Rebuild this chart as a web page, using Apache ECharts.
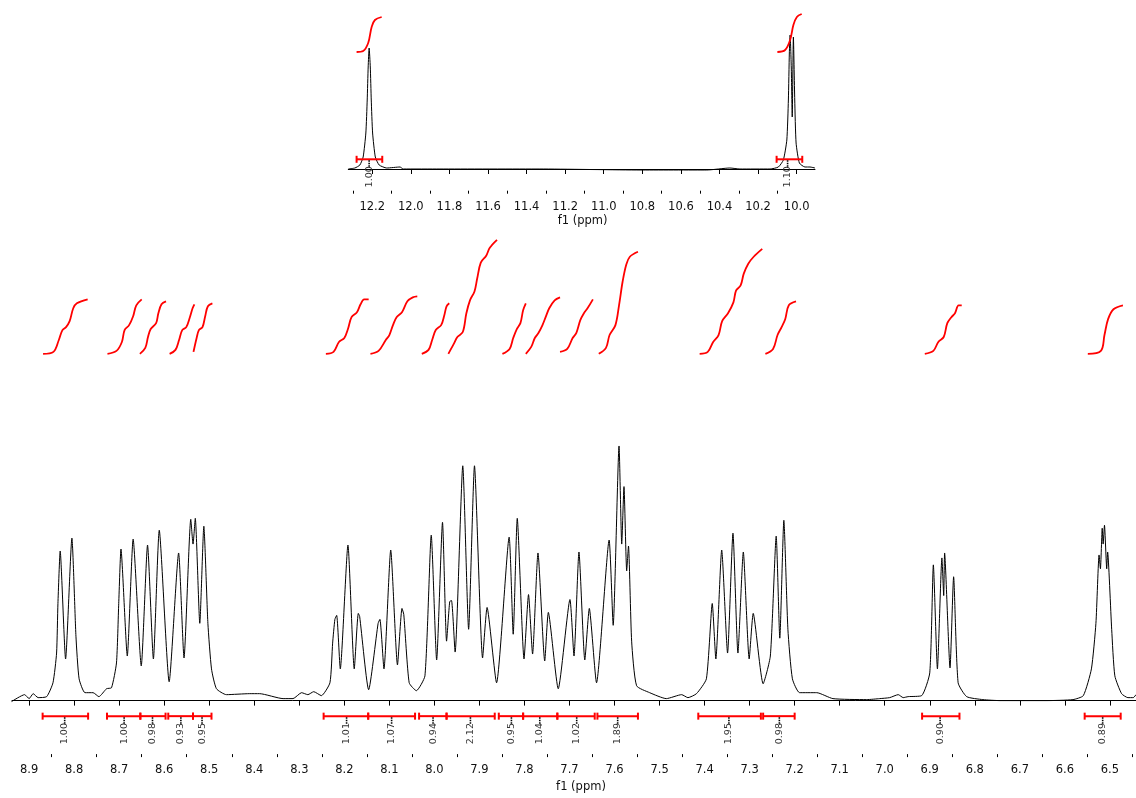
<!DOCTYPE html>
<html>
<head>
<meta charset="utf-8">
<script src="https://cdn.jsdelivr.net/npm/echarts@6/dist/echarts.min.js"></script>
<style>
  html, body { margin: 0; padding: 0; background: #fff; }
  #chart { width: 1136px; height: 798px; }
</style>
</head>
<body>
<div id="chart"></div>
<script>
// ---------- DATA ----------
// Main spectrum (f1, ppm) and intensity (arbitrary units, 0 = baseline)
const mainPpm = [8.939, 8.910, 8.900, 8.891, 8.880, 8.861, 8.847, 8.839, 8.836, 8.831,
  8.819, 8.805, 8.796, 8.789, 8.776, 8.758, 8.745, 8.728, 8.717, 8.706,
  8.701, 8.696, 8.682, 8.669, 8.651, 8.637, 8.624, 8.611, 8.589, 8.568,
  8.556, 8.541, 8.536, 8.531, 8.521, 8.512, 8.503, 8.495, 8.484, 8.462,
  8.410, 8.388, 8.336, 8.314, 8.295, 8.281, 8.268, 8.251, 8.232, 8.226,
  8.221, 8.217, 8.209, 8.192, 8.178, 8.169, 8.166, 8.146, 8.125, 8.121,
  8.112, 8.097, 8.082, 8.072, 8.068, 8.056, 8.040, 8.021, 8.007, 7.995,
  7.982, 7.973, 7.966, 7.962, 7.954, 7.937, 7.924, 7.911, 7.893, 7.883,
  7.862, 7.834, 7.825, 7.816, 7.801, 7.791, 7.782, 7.770, 7.755, 7.747,
  7.725, 7.699, 7.690, 7.679, 7.666, 7.656, 7.640, 7.612, 7.603, 7.590,
  7.584, 7.579, 7.573, 7.569, 7.562, 7.551, 7.522, 7.485, 7.451, 7.437,
  7.418, 7.396, 7.383, 7.375, 7.362, 7.349, 7.337, 7.326, 7.314, 7.301,
  7.292, 7.270, 7.254, 7.241, 7.233, 7.224, 7.215, 7.205, 7.189, 7.151,
  7.115, 7.040, 7.011, 6.989, 6.970, 6.959, 6.948, 6.918, 6.900, 6.892,
  6.883, 6.873, 6.869, 6.867, 6.855, 6.847, 6.837, 6.818, 6.782, 6.744,
  6.715, 6.641, 6.582, 6.559, 6.541, 6.531, 6.524, 6.521, 6.517, 6.515,
  6.512, 6.507, 6.505, 6.496, 6.489, 6.474, 6.460, 6.448, 6.442];
const mainIntensity = [-1, 6, 2, 7, 3, 4, 18, 48, 98, 151,
  42, 164, 65, 22, 8, 8, 4, 12, 13, 38,
  98, 153, 45, 163, 35, 157, 42, 172, 19, 149,
  43, 183, 158, 184, 78, 176, 78, 32, 12, 6,
  7, 7, 2, 2, 8, 6, 9, 5, 18, 58,
  82, 86, 32, 157, 32, 88, 85, 11, 78, 82,
  32, 152, 36, 93, 87, 18, 10, 25, 167, 41,
  180, 60, 100, 101, 49, 237, 72, 237, 43, 94,
  18, 165, 67, 184, 42, 107, 47, 149, 40, 89,
  12, 102, 45, 150, 41, 93, 18, 162, 76, 257,
  158, 216, 131, 156, 60, 15, 8, 2, 6, 3,
  7, 22, 98, 42, 152, 48, 169, 48, 150, 42,
  88, 17, 45, 166, 63, 182, 72, 22, 8, 8,
  2, 1, 2, 3, 6, 3, 4, 5, 28, 137,
  32, 144, 106, 149, 33, 125, 18, 4, 1, 0,
  0, 0, 1, 5, 32, 78, 147, 133, 174, 158,
  177, 133, 150, 72, 25, 7, 3, 3, 6];

// Inset spectrum (12.3 - 9.9 ppm)
const insetPpm = [12.324, 12.290, 12.264, 12.247, 12.233, 12.226, 12.221, 12.216, 12.210, 12.205,
  12.198, 12.184, 12.164, 12.125, 12.056, 12.039, 11.849, 11.331, 10.812, 10.466,
  10.346, 10.294, 10.138, 10.095, 10.069, 10.051, 10.043, 10.038, 10.034, 10.028,
  10.023, 10.017, 10.010, 10.003, 9.986, 9.957, 9.931, 9.905];
const insetIntensity = [0, 1, 4, 12, 36, 69, 102, 121, 102, 69,
  36, 12, 4, 1, 2, 0, 0, 0, -1, -1,
  1, 0, 0, 2, 9, 29, 69, 116, 134, 102,
  52, 132, 69, 26, 6, 2, 2, 1];

// Integration regions: [from ppm, to ppm, label ppm]
const mainIntegralRanges = [
  [8.870, 8.769, 8.821], [8.727, 8.653, 8.689], [8.653, 8.597, 8.626],
  [8.591, 8.536, 8.563], [8.536, 8.495, 8.516], [8.246, 8.147, 8.195],
  [8.147, 8.043, 8.095], [8.034, 7.973, 8.003], [7.973, 7.866, 7.920],
  [7.857, 7.803, 7.829], [7.803, 7.727, 7.766], [7.727, 7.644, 7.684],
  [7.638, 7.548, 7.593], [7.414, 7.275, 7.346], [7.270, 7.200, 7.234],
  [6.917, 6.834, 6.877], [6.556, 6.476, 6.516]];
const mainIntegralValues = ['1.00', '1.00', '0.98', '0.93', '0.95', '1.01', '1.07', '0.94', '2.12',
  '0.95', '1.04', '1.02', '1.89', '1.95', '0.98', '0.90', '0.89'];
const insetIntegralRanges = [[12.281, 12.148, 12.216], [10.104, 9.971, 10.047]];
const insetIntegralValues = ['1.00', '1.10'];

// Integral curves (ppm, cumulative integral in intensity units)
const mainIntegralCurvePpm = [
  [8.869, 8.846, 8.834, 8.826, 8.818, 8.810, 8.802, 8.794, 8.770],
  [8.726, 8.706, 8.694, 8.688, 8.678, 8.669, 8.662, 8.650],
  [8.654, 8.642, 8.636, 8.630, 8.618, 8.613, 8.606, 8.596],
  [8.588, 8.575, 8.567, 8.560, 8.551, 8.543, 8.537, 8.533],
  [8.535, 8.528, 8.523, 8.515, 8.509, 8.503, 8.493],
  [8.241, 8.224, 8.212, 8.200, 8.192, 8.184, 8.172, 8.164, 8.156, 8.146],
  [8.142, 8.124, 8.108, 8.100, 8.092, 8.084, 8.072, 8.060, 8.048, 8.038],
  [8.028, 8.013, 8.005, 7.997, 7.985, 7.978, 7.973, 7.967],
  [7.969, 7.957, 7.949, 7.937, 7.929, 7.921, 7.911, 7.905, 7.897, 7.885, 7.877, 7.861],
  [7.849, 7.833, 7.825, 7.817, 7.809, 7.803, 7.797],
  [7.797, 7.785, 7.777, 7.769, 7.760, 7.753, 7.745, 7.733, 7.721],
  [7.721, 7.705, 7.693, 7.685, 7.676, 7.668, 7.660, 7.648],
  [7.635, 7.619, 7.611, 7.598, 7.590, 7.582, 7.574, 7.566, 7.548],
  [7.411, 7.393, 7.381, 7.369, 7.361, 7.348, 7.336, 7.330, 7.320, 7.313, 7.303, 7.291, 7.272],
  [7.265, 7.248, 7.238, 7.229, 7.221, 7.213, 7.197],
  [6.911, 6.892, 6.881, 6.869, 6.861, 6.852, 6.844, 6.836, 6.829],
  [6.549, 6.520, 6.512, 6.504, 6.492, 6.471]];
const mainIntegralCurveVal = [
  [350, 352, 364, 374, 377, 383, 396, 401, 405],
  [350, 353, 362, 374, 379, 388, 399, 405],
  [350, 356, 367, 375, 381, 391, 400, 403],
  [350, 354, 364, 374, 377, 387, 396, 400],
  [352, 366, 374, 377, 388, 398, 401],
  [350, 352, 362, 366, 375, 387, 392, 400, 405, 405],
  [350, 353, 364, 369, 379, 387, 392, 403, 407, 408],
  [350, 354, 364, 374, 379, 389, 398, 401],
  [350, 360, 367, 372, 391, 404, 413, 426, 442, 449, 457, 465],
  [350, 355, 366, 375, 381, 394, 401],
  [350, 357, 366, 371, 379, 387, 396, 404, 407],
  [352, 355, 366, 371, 384, 391, 396, 405],
  [350, 356, 369, 379, 399, 423, 440, 448, 453],
  [350, 352, 362, 369, 383, 391, 402, 414, 419, 431, 441, 448, 456],
  [350, 355, 369, 377, 385, 399, 403],
  [350, 353, 362, 367, 381, 387, 391, 399, 399],
  [350, 353, 369, 385, 395, 399]];
const insetIntegralCurvePpm = [
  [12.281, 12.247, 12.221, 12.203, 12.186, 12.151],
  [10.100, 10.060, 10.034, 10.017, 9.999, 9.974]];
const insetIntegralCurveVal = [
  [117, 118, 126, 142, 149, 152],
  [117, 119, 129, 144, 152, 155]];

// Tick labels
const mainMajorTicks = [6.5, 6.6, 6.7, 6.8, 6.9, 7.0, 7.1, 7.2, 7.3, 7.4, 7.5, 7.6, 7.7,
  7.8, 7.9, 8.0, 8.1, 8.2, 8.3, 8.4, 8.5, 8.6, 8.7, 8.8, 8.9];
const mainMinorTicks = [6.45, 6.55, 6.65, 6.75, 6.85, 6.95, 7.05, 7.15, 7.25, 7.35, 7.45, 7.55,
  7.65, 7.75, 7.85, 7.95, 8.05, 8.15, 8.25, 8.35, 8.45, 8.55, 8.65, 8.75, 8.85];
const insetMajorTicks = [10.0, 10.2, 10.4, 10.6, 10.8, 11.0, 11.2, 11.4, 11.6, 11.8, 12.0, 12.2];
const insetMinorTicks = [10.1, 10.3, 10.5, 10.7, 10.9, 11.1, 11.3, 11.5, 11.7, 11.9, 12.1, 12.3];

// ---------- STYLE / LAYOUT ----------
const FONT = '"DejaVu Sans", Verdana, sans-serif';
const RED = '#ff0000';
const MAIN_BAR_LEVEL = -15.7;
const INSET_BAR_LEVEL = 9.7;

function pairs(xs, ys) { return xs.map((x, i) => [x, ys[i]]); }

function integralRenderer(barLevel, labels) {
  return function (params, api) {
    const s = api.coord([api.value(0), barLevel]);
    const e = api.coord([api.value(1), barLevel]);
    const c = api.coord([api.value(2), barLevel]);
    const red = { stroke: RED, lineWidth: 2 };
    return {
      type: 'group',
      children: [
        { type: 'line', shape: { x1: s[0], y1: s[1], x2: e[0], y2: e[1] }, style: red },
        { type: 'line', shape: { x1: s[0], y1: s[1] - 3.5, x2: s[0], y2: s[1] + 3.5 }, style: red },
        { type: 'line', shape: { x1: e[0], y1: e[1] - 3.5, x2: e[0], y2: e[1] + 3.5 }, style: red },
        { type: 'line', shape: { x1: c[0], y1: c[1] + 1, x2: c[0], y2: c[1] + 7.5 },
          style: { stroke: '#000', lineWidth: 1.6, lineDash: [1.5, 1] } },
        { type: 'text', x: c[0], y: c[1] + 17.5, rotation: Math.PI / 2,
          style: { text: labels[params.dataIndex], fill: '#333', fontSize: 9.5, fontFamily: FONT,
                   align: 'center', verticalAlign: 'middle' } }
      ]
    };
  };
}

function majorAxis(gridIndex, min, max, ticks, namePad) {
  return {
    type: 'value', gridIndex, min, max, inverse: true, position: 'bottom',
    axisLine: { show: true, lineStyle: { color: '#000', width: 1 } },
    axisTick: { show: true, customValues: ticks, length: 5, lineStyle: { color: '#000', width: 1 } },
    axisLabel: { show: true, customValues: ticks, margin: 10, color: '#111', fontSize: 11.5,
                 fontFamily: FONT, formatter: v => v.toFixed(1) },
    splitLine: { show: false },
    name: 'f1 (ppm)', nameLocation: 'middle', nameGap: 24,
    nameTextStyle: { color: '#111', fontSize: 11.5, fontFamily: FONT, padding: [0, 0, 0, namePad] }
  };
}
function minorAxis(gridIndex, min, max, ticks) {
  return {
    type: 'value', gridIndex, min, max, inverse: true, position: 'bottom', offset: 0,
    axisLine: { show: false },
    axisTick: { show: true, customValues: ticks, length: 3, lineStyle: { color: '#000', width: 1 } },
    axisLabel: { show: false },
    splitLine: { show: false }
  };
}

const series = [
  { type: 'line', xAxisIndex: 0, yAxisIndex: 0, data: pairs(mainPpm, mainIntensity),
    showSymbol: false, symbol: 'none', smooth: 0.18, lineStyle: { color: '#000', width: 1 }, z: 3 },
  { type: 'line', xAxisIndex: 2, yAxisIndex: 1, data: pairs(insetPpm, insetIntensity),
    showSymbol: false, symbol: 'none', smooth: 0.18, lineStyle: { color: '#000', width: 1 }, z: 3 },
  { type: 'custom', coordinateSystem: 'cartesian2d', xAxisIndex: 0, yAxisIndex: 0,
    data: mainIntegralRanges, renderItem: integralRenderer(MAIN_BAR_LEVEL, mainIntegralValues), z: 4 },
  { type: 'custom', coordinateSystem: 'cartesian2d', xAxisIndex: 2, yAxisIndex: 1,
    data: insetIntegralRanges, renderItem: integralRenderer(INSET_BAR_LEVEL, insetIntegralValues), z: 4 }
];
mainIntegralCurvePpm.forEach((xs, i) => {
  series.push({ type: 'line', xAxisIndex: 0, yAxisIndex: 0, data: pairs(xs, mainIntegralCurveVal[i]),
    symbol: 'none', smooth: 0.35, lineStyle: { color: RED, width: 1.8 }, z: 5 });
});
insetIntegralCurvePpm.forEach((xs, i) => {
  series.push({ type: 'line', xAxisIndex: 2, yAxisIndex: 1, data: pairs(xs, insetIntegralCurveVal[i]),
    symbol: 'none', smooth: 0.35, lineStyle: { color: RED, width: 1.8 }, z: 5 });
});

const chart = echarts.init(document.getElementById('chart'), null, { renderer: 'canvas' });
chart.setOption({
  animation: false,
  backgroundColor: '#ffffff',
  grid: [
    { left: 12, right: 0, top: 230, bottom: 39 },
    { left: 348.3, right: 321, top: 10, bottom: 607.3 }
  ],
  xAxis: [
    majorAxis(0, 6.442, 8.938, mainMajorTicks, 14),
    minorAxis(0, 6.442, 8.938, mainMinorTicks),
    majorAxis(1, 9.905, 12.324, insetMajorTicks, 2),
    minorAxis(1, 9.905, 12.324, insetMinorTicks)
  ],
  yAxis: [
    { type: 'value', gridIndex: 0, min: -54, max: 475, show: false, splitLine: { show: false } },
    { type: 'value', gridIndex: 1, min: -21.7, max: 159, show: false, splitLine: { show: false } }
  ],
  series
});
</script>
</body>
</html>
